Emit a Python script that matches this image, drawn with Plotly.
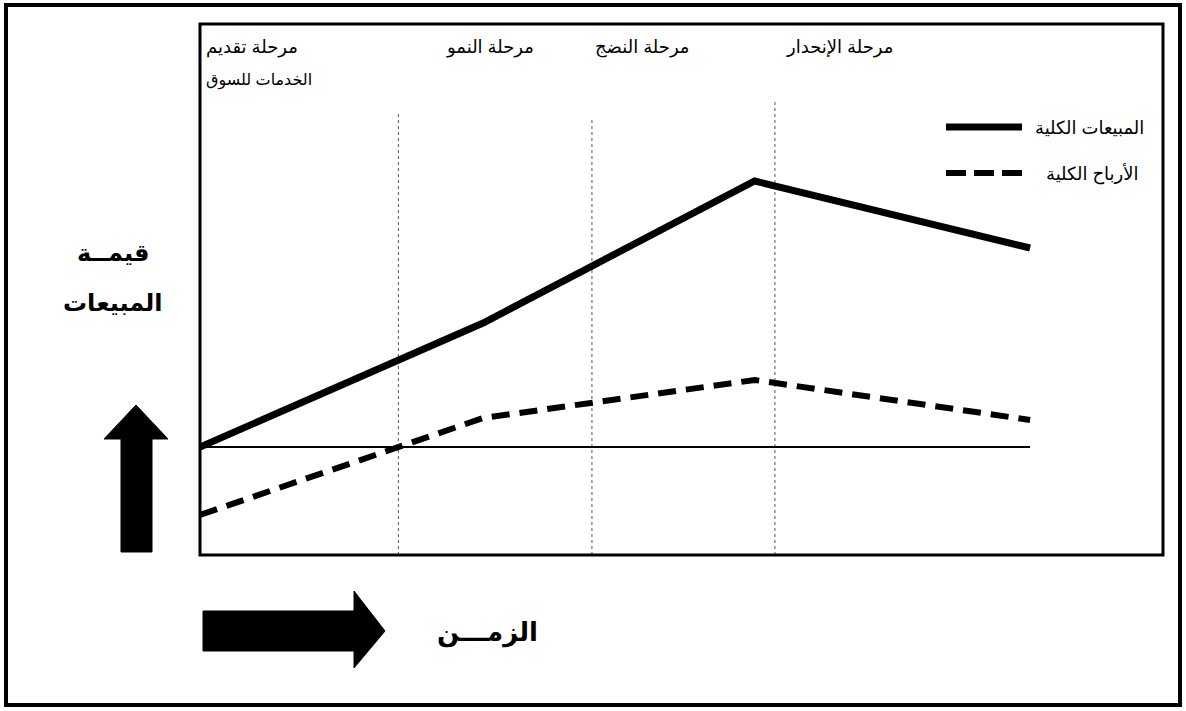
import plotly.graph_objects as go

# ---- data (x: time units 0-100, y: value units, 0 = break-even) ----
sales_x = [0, 29.4, 57.6, 86.2]
sales_y = [0, 124, 266, 199]
profit_x = [0, 20.6, 29.4, 57.6, 86.2]
profit_y = [-68, 0, 29, 67, 27]
stage_bounds = [20.6, 40.7, 59.7]
stage_bound_tops = [335, 329, 347]
stage_labels = ["مرحلة تقديم", "الخدمات للسوق", "مرحلة النمو", "مرحلة النضج", "مرحلة الإنحدار"]
series_names = ["المبيعات الكلية", "الأرباح الكلية"]
y_label = ["قيمــة", "المبيعات"]
x_label = "الزمـــن"

W, H = 1186, 711
L, R, T, B = 200, 23, 24, 156
PW, PH = W - L - R, H - T - B


def px(x):
    return (x - L) / PW


def py(y):
    return (H - B - y) / PH


FONT = "Arial, DejaVu Sans, sans-serif"

fig = go.Figure()
fig.add_trace(go.Scatter(x=sales_x, y=sales_y, mode="lines", name=series_names[0],
                         line=dict(color="black", width=7), showlegend=False))
fig.add_trace(go.Scatter(x=profit_x, y=profit_y, mode="lines", name=series_names[1],
                         line=dict(color="black", width=6, dash="18px,10px"), showlegend=False))

shapes = []
# zero line
shapes.append(dict(type="line", xref="x", yref="y", x0=0, x1=sales_x[-1], y0=0, y1=0,
                   line=dict(color="black", width=2), layer="below"))
# stage boundaries
for xb, yt in zip(stage_bounds, stage_bound_tops):
    shapes.append(dict(type="line", xref="x", yref="paper", x0=xb, x1=xb, y0=0, y1=py(447 - yt),
                       line=dict(color="#555", width=1, dash="3px,3px"), layer="below"))
# inner box
shapes.append(dict(type="rect", xref="paper", yref="paper", x0=0, x1=1, y0=0, y1=1,
                   line=dict(color="black", width=3)))
# outer border
shapes.append(dict(type="rect", xref="paper", yref="paper", x0=px(6), x1=px(1180), y0=py(705), y1=py(5),
                   line=dict(color="black", width=4)))
# legend samples
shapes.append(dict(type="line", xref="paper", yref="paper", x0=px(946), x1=px(1022), y0=py(127), y1=py(127),
                   line=dict(color="black", width=7)))
shapes.append(dict(type="line", xref="paper", yref="paper", x0=px(946), x1=px(1022), y0=py(173), y1=py(173),
                   line=dict(color="black", width=6, dash="20px,8px")))


def poly(pts):
    return "M " + " L ".join(f"{px(a):.5f},{py(b):.5f}" for a, b in pts) + " Z"


# up arrow
shapes.append(dict(type="path", xref="paper", yref="paper",
                   path=poly([(121, 552), (152, 552), (152, 439), (168, 439), (136, 405), (104, 439), (121, 439)]),
                   fillcolor="black", line=dict(color="black", width=1)))
# right arrow
shapes.append(dict(type="path", xref="paper", yref="paper",
                   path=poly([(203, 611), (354, 611), (354, 591), (385, 631), (354, 668), (354, 651), (203, 651)]),
                   fillcolor="black", line=dict(color="black", width=1)))

ann = []


def text(t, x, y, size, bold=False, xanchor="center"):
    ann.append(dict(text=f"<b>{t}</b>" if bold else t, x=px(x), y=py(y), xref="paper", yref="paper",
                    showarrow=False, xanchor=xanchor, yanchor="middle",
                    font=dict(family=FONT, size=size, color="black")))


text(stage_labels[0], 204, 47, 18, xanchor="left")
text(stage_labels[1], 204, 80, 16, xanchor="left")
text(stage_labels[2], 490, 47, 18)
text(stage_labels[3], 642, 47, 18)
text(stage_labels[4], 839, 47, 18)
text(series_names[0], 1146, 128, 18, xanchor="right")
text(series_names[1], 1141, 174, 18, xanchor="right")
text(y_label[0], 113, 252, 24, bold=True)
text(y_label[1], 113, 302, 24, bold=True)
text(x_label, 487, 632, 26, bold=True)

fig.update_layout(
    width=W, height=H,
    margin=dict(l=L, r=R, t=T, b=B),
    paper_bgcolor="white", plot_bgcolor="white",
    xaxis=dict(range=[0, 100], visible=False, fixedrange=True),
    yaxis=dict(range=[-(555 - 447), 447 - 24], visible=False, fixedrange=True),
    shapes=shapes, annotations=ann, showlegend=False,
)
fig.write_html("out.html")
